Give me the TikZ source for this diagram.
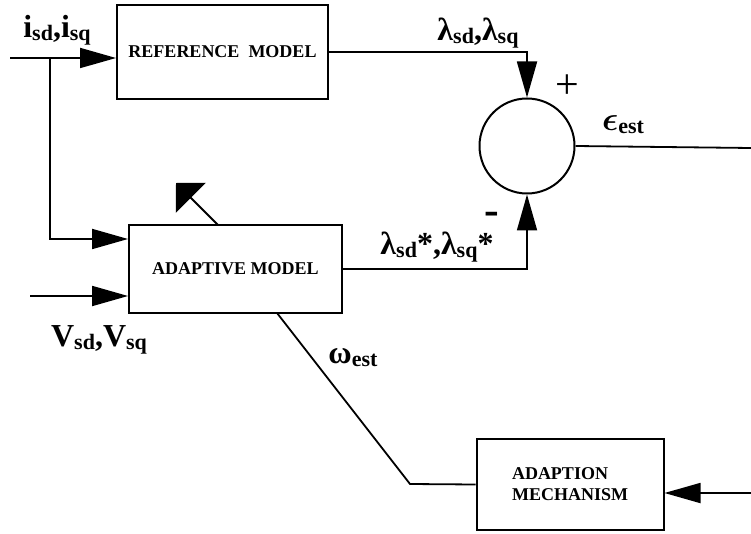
\documentclass[tikz,border=0pt]{standalone}
\usepackage{fontspec}
\setmainfont{Liberation Serif}
\usepackage{amsmath,bm}
\usetikzlibrary{arrows.meta,positioning,calc}

\newcommand{\sig}[2]{#1{\fontsize{22}{22}\selectfont\raisebox{-3pt}{#2}}}

\begin{document}
\begin{tikzpicture}[x=1pt,y=-1pt,
    box/.style={rectangle, draw=black, line width=2pt, align=center,
                font=\bfseries\fontsize{18}{21}\selectfont},
    arrow/.style={-{Triangle[length=36pt,width=20pt]}, line width=1.8pt},
    line/.style={line width=1.8pt},
    lbl/.style={font=\bfseries\fontsize{32}{32}\selectfont, inner sep=0pt}
]
\useasboundingbox (0,0) rectangle (751,534);

\node[box, minimum width=211pt, minimum height=94pt] (ref) at (222.5,52) {REFERENCE\ \ MODEL};
\node[box, minimum width=213pt, minimum height=88pt] (adapt) at (235.5,269) {ADAPTIVE MODEL};
\node[box, minimum width=187pt, minimum height=91pt, align=left] (mech) at (570,484.5) {ADAPTION\\MECHANISM};
\node[draw, circle, line width=2pt, minimum size=95pt] (sum) at (527,146) {};

\coordinate (iin) at (10,58);
\coordinate (tap) at (50,58);
\coordinate (vin) at (30,296);
\coordinate (eout) at (751,148);
\coordinate (ein) at (751,493);
\coordinate (knee) at (410,484);
\coordinate (wfrom) at (277,313);
\coordinate (tunebase) at (218,225);
\coordinate (tunetip) at (176,183);

\draw[arrow] (iin) -- (iin -| ref.west);
\draw[arrow] (tap) |- ($(adapt.west)+(0,-30)$);
\draw[arrow] (vin) -- (vin -| adapt.west);
\draw[arrow] (ref.east) -| (sum.north);
\draw[arrow] (adapt.east) -| (sum.south);
\draw[line] (sum.east) -- (eout);
\draw[arrow] (ein) -- (ein -| mech.east);
\draw[line] (mech.west) -- (knee) -- (wfrom);
\draw[-{Triangle[length=21pt,width=42pt]}, line width=1.8pt] (tunebase) -- (tunetip);

\node[lbl] (ilbl) at (57,30) {\sig{i}{sd},\sig{i}{sq}};
\node[lbl] (vlbl) at (99,340) {\sig{V}{sd},\sig{V}{sq}};
\node[lbl] (lamlbl) at (478,33) {\sig{λ}{sd},\sig{λ}{sq}};
\node[lbl, font=\fontsize{42}{42}\selectfont] (pluslbl) at (567,87) {+};
\node[lbl] (epslbl) at (623,125) {\sig{\scalebox{1.35}{$\boldsymbol{\epsilon}$}}{est}};
\node[lbl, font=\bfseries\fontsize{44}{44}\selectfont] (minuslbl) at (492,218) {-};
\node[lbl] (lamslbl) at (437,247) {\sig{λ}{sd}*,\sig{λ}{sq}*};
\node[lbl] (wlbl) at (353,358) {\sig{ω}{est}};
\end{tikzpicture}
\end{document}
